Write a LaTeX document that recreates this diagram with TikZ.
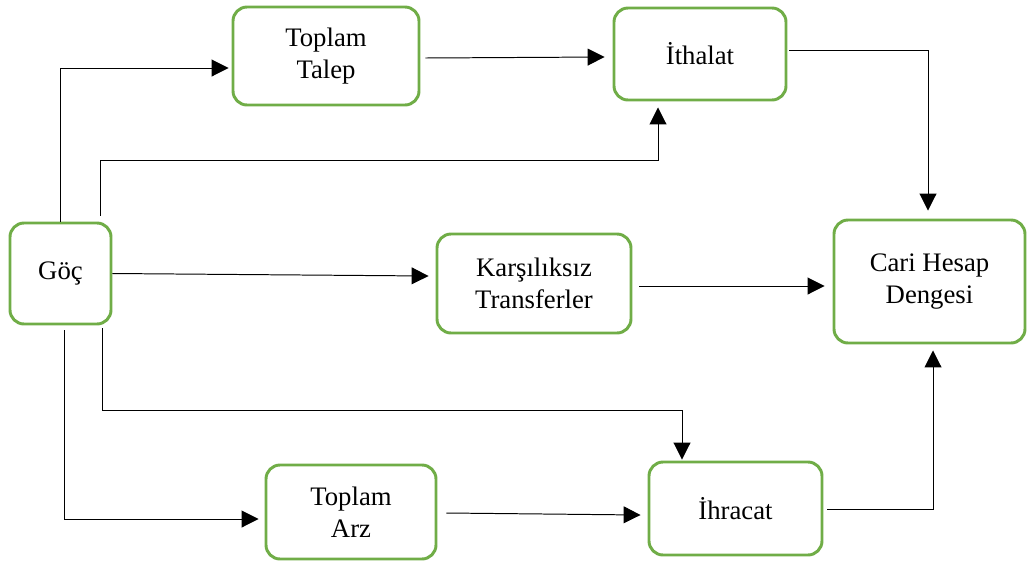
\documentclass[tikz,border=0pt]{standalone}
\usepackage{fontspec}
\setmainfont{Liberation Serif}
\usetikzlibrary{arrows.meta,calc}
\definecolor{boxgreen}{RGB}{112,173,71}

\begin{document}
\begin{tikzpicture}[x=0.025cm,y=-0.025cm,
  box/.style={draw=boxgreen, line width=2.1pt,
    rounded corners=10pt, align=center, inner sep=0pt,
    font=\fontsize{19}{22.5}\selectfont},
  arr/.style={line width=0.7pt, -{Triangle[length=12pt,width=12pt]}}]
\useasboundingbox (0,0) rectangle (1027,561);

% --- the boxes
\node[box, minimum width=101*0.025cm, minimum height=101*0.025cm] (goc) at (60.5,273.5) {Göç};
\node[box, minimum width=186*0.025cm, minimum height=98*0.025cm] (talep) at (326,56) {Toplam\\Talep};
\node[box, minimum width=172*0.025cm, minimum height=92*0.025cm] (ithalat) at (700,54) {İthalat};
\node[box, minimum width=194*0.025cm, minimum height=99*0.025cm] (transfer) at (534,283.5) {Karşılıksız\\Transferler};
\node[box, minimum width=191*0.025cm, minimum height=123*0.025cm] (cari) at (929.5,281.5) {Cari Hesap\\Dengesi};
\node[box, minimum width=170*0.025cm, minimum height=94*0.025cm] (arz) at (351,512) {Toplam\\Arz};
\node[box, minimum width=173*0.025cm, minimum height=93*0.025cm] (ihracat) at (735.5,508.5) {İhracat};

% ---- bend points
\coordinate (m1) at ($(ithalat.south)+(-42,59)$);
\coordinate (m2) at ($(ihracat.north)+(-53.5,-50)$);

% ---- connectors from Göç
\draw[arr] (goc.north) |- ($(talep.west)+(-3,12)$);
\draw[arr] ($(goc.north east)+(-12,-6)$) |- (m1) -- ($(ithalat.south)+(-42,6)$);
\draw[arr] (goc.east) -- ($(transfer.west)+(-7,-7.5)$);
\draw[arr] ($(goc.south east)+(-10,3)$) |- (m2) -- ($(ihracat.north)+(-53.5,-1)$);
\draw[arr] ($(goc.south)+(3.5,5)$) |- ($(arz.west)+(-6,7)$);

% ---- the other connectors
\draw[arr] ($(talep.east)+(5,2)$) -- ($(ithalat.west)+(-8,3)$);
\draw[arr] ($(arz.east)+(9,1)$) -- ($(ihracat.west)+(-7,6.5)$);
\draw[arr] ($(ithalat.east)+(2,-4)$) -| ($(cari.north)+(-1.5,-8)$);
\draw[arr] ($(transfer.east)+(7,2.5)$) -- ($(cari.west)+(-8,4.5)$);
\draw[arr] ($(ihracat.east)+(4,0.5)$) -| ($(cari.south)+(3.5,6)$);
\end{tikzpicture}
\end{document}
